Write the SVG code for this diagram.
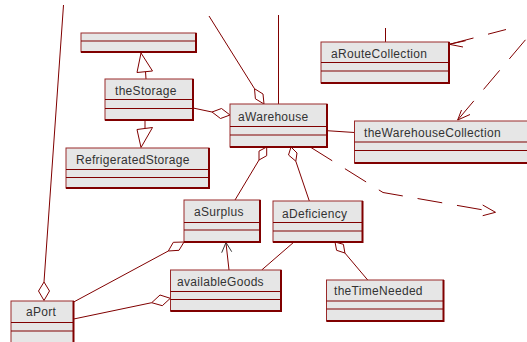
<svg xmlns="http://www.w3.org/2000/svg" width="527" height="342" viewBox="0 0 527 342">
<style>
.bx{fill:#e6e6e6;stroke:#9a2a2a;stroke-width:1}
.sh{fill:none;stroke:#800000;stroke-width:2}
.dv{stroke:#800000;stroke-width:1}
.t{font-family:"Liberation Sans",Arial,sans-serif;font-size:12px;letter-spacing:0.3px;fill:#333}
.ln{fill:none;stroke:#800000;stroke-width:1}
.ds{fill:none;stroke:#800000;stroke-width:1;stroke-dasharray:25 15}
.dm{fill:#fff;stroke:#800000;stroke-width:1}
.tri{fill:#fff;stroke:#800000;stroke-width:1}
</style>
<rect width="527" height="342" fill="#fff"/>
<g id="connectors">
  <line class="ln" x1="63.5" y1="5" x2="44" y2="282"/>
  <polygon class="dm" points="44,282 49.5,291 44,300.5 38.5,291"/>
  <line class="ln" x1="145.5" y1="71.5" x2="146" y2="79"/>
  <polygon class="tri" points="141,53 152.5,71 137,72.5"/>
  <line class="ln" x1="145" y1="120" x2="145" y2="128.5"/>
  <polygon class="tri" points="141,147.5 137,129.5 152.5,127.5"/>
  <line class="ln" x1="193" y1="108" x2="212" y2="112"/>
  <polygon class="dm" points="230,115 221.5,108.5 212,112 220.5,118.5"/>
  <line class="ln" x1="209" y1="16" x2="254.5" y2="88.7"/>
  <polygon class="dm" points="264,104 263,94 254.5,88.7 255.4,98.8"/>
  <line class="ln" x1="278.5" y1="15" x2="278.5" y2="104"/>
  <line class="ln" x1="385.5" y1="28" x2="385.5" y2="42"/>
  <line class="ln" x1="327" y1="130.7" x2="354.5" y2="132.5"/>
  <line class="ds" x1="449.3" y1="44.3" x2="506" y2="29.5" stroke-dasharray="16 15 25 15"/>
  <polyline class="ln" points="465.7,40.7 449.3,44.3 463,47"/>
  <line class="ds" x1="457.7" y1="120" x2="527" y2="38"/>
  <polyline class="ln" points="461.5,110 457.7,120 470,114.5"/>
  <polyline class="ds" points="311,147.5 383,192.5 495,212"/>
  <polyline class="ln" points="482.7,205 495.5,212.3 482.7,215.7"/>
  <line class="ln" x1="259" y1="160" x2="235" y2="200"/>
  <polygon class="dm" points="266.7,147 266.7,155.7 259,160 259,151.1"/>
  <line class="ln" x1="295.8" y1="161.2" x2="309.3" y2="201"/>
  <polygon class="dm" points="291,147 297,153 295.8,161.2 288.5,155"/>
  <line class="ln" x1="73.7" y1="302" x2="168.3" y2="251"/>
  <polygon class="dm" points="168.3,251 173.3,242.3 184,242 179,250.3"/>
  <line class="ln" x1="73.7" y1="319" x2="151.7" y2="302.7"/>
  <polygon class="dm" points="151.7,302.7 160,295 170.3,298.3 162.3,305.7"/>
  <line class="ln" x1="229" y1="270" x2="226" y2="243"/>
  <polyline fill="none" stroke="#333" stroke-width="1" points="221.7,252.7 226,242.5 231.7,251.7"/>
  <line class="ln" x1="261.7" y1="270" x2="294" y2="242"/>
  <line class="ln" x1="344.9" y1="253" x2="367.7" y2="280"/>
  <polygon class="dm" points="335,242 343.4,244.3 344.9,253 336.6,250.3"/>
</g>
<g id="nUnnamed">
  <rect class="bx" x="81" y="33" width="115" height="19"/>
  <polyline class="sh" points="81,52 196,52 196,33"/>
  <line class="dv" x1="81" y1="41" x2="196" y2="41"/>
</g>
<g id="nTheStorage">
  <rect class="bx" x="105" y="79" width="88" height="41"/>
  <polyline class="sh" points="105,120 193,120 193,79"/>
  <line class="dv" x1="105" y1="99.5" x2="193" y2="99.5"/>
  <line class="dv" x1="105" y1="108.5" x2="193" y2="108.5"/>
  <text class="t" x="115" y="95">theStorage</text>
</g>
<g id="nRefrigeratedStorage">
  <rect class="bx" x="66" y="148" width="143" height="40"/>
  <polyline class="sh" points="66,188 209,188 209,148"/>
  <line class="dv" x1="66" y1="169.5" x2="209" y2="169.5"/>
  <line class="dv" x1="66" y1="177.5" x2="209" y2="177.5"/>
  <text class="t" x="76" y="164">RefrigeratedStorage</text>
</g>
<g id="nAWarehouse">
  <rect class="bx" x="230" y="104" width="97" height="43"/>
  <polyline class="sh" points="230,147 327,147 327,104"/>
  <line class="dv" x1="230" y1="126.5" x2="327" y2="126.5"/>
  <line class="dv" x1="230" y1="135" x2="327" y2="135"/>
  <text class="t" x="238" y="121">aWarehouse</text>
</g>
<g id="nARouteCollection">
  <rect class="bx" x="321" y="42" width="128" height="41"/>
  <polyline class="sh" points="321,83 449,83 449,42"/>
  <line class="dv" x1="321" y1="62.5" x2="449" y2="62.5"/>
  <line class="dv" x1="321" y1="71" x2="449" y2="71"/>
  <text class="t" x="331" y="57.5">aRouteCollection</text>
</g>
<g id="nTheWarehouseCollection">
  <rect class="bx" x="354.5" y="121" width="180" height="42"/>
  <polyline class="sh" points="354.5,163 534.5,163"/>
  <line class="dv" x1="354.5" y1="142" x2="534.5" y2="142"/>
  <line class="dv" x1="354.5" y1="150.5" x2="534.5" y2="150.5"/>
  <text class="t" x="364" y="137">theWarehouseCollection</text>
</g>
<g id="nASurplus">
  <rect class="bx" x="184" y="200" width="76" height="42"/>
  <polyline class="sh" points="184,242 260,242 260,200"/>
  <line class="dv" x1="184" y1="222.5" x2="260" y2="222.5"/>
  <line class="dv" x1="184" y1="230" x2="260" y2="230"/>
  <text class="t" x="194" y="216">aSurplus</text>
</g>
<g id="nADeficiency">
  <rect class="bx" x="273" y="201" width="89.5" height="41"/>
  <polyline class="sh" points="273,242 362.5,242 362.5,201"/>
  <line class="dv" x1="273" y1="222.5" x2="362.5" y2="222.5"/>
  <line class="dv" x1="273" y1="231" x2="362.5" y2="231"/>
  <text class="t" x="282" y="217.5">aDeficiency</text>
</g>
<g id="nAvailableGoods">
  <rect class="bx" x="170.5" y="270" width="110.5" height="41"/>
  <polyline class="sh" points="170.5,311 281,311 281,270"/>
  <line class="dv" x1="170.5" y1="291.5" x2="281" y2="291.5"/>
  <line class="dv" x1="170.5" y1="299.5" x2="281" y2="299.5"/>
  <text class="t" x="177" y="286">availableGoods</text>
</g>
<g id="nTheTimeNeeded">
  <rect class="bx" x="326.5" y="280" width="117" height="41"/>
  <polyline class="sh" points="326.5,321 443.5,321 443.5,280"/>
  <line class="dv" x1="326.5" y1="301" x2="443.5" y2="301"/>
  <line class="dv" x1="326.5" y1="309" x2="443.5" y2="309"/>
  <text class="t" x="334" y="295">theTimeNeeded</text>
</g>
<g id="nAPort">
  <rect class="bx" x="11" y="301" width="62.5" height="50"/>
  <polyline class="sh" points="73.5,301 73.5,351"/>
  <line class="dv" x1="11" y1="322.5" x2="73.5" y2="322.5"/>
  <line class="dv" x1="11" y1="331" x2="73.5" y2="331"/>
  <text class="t" x="26" y="316">aPort</text>
</g>
</svg>
